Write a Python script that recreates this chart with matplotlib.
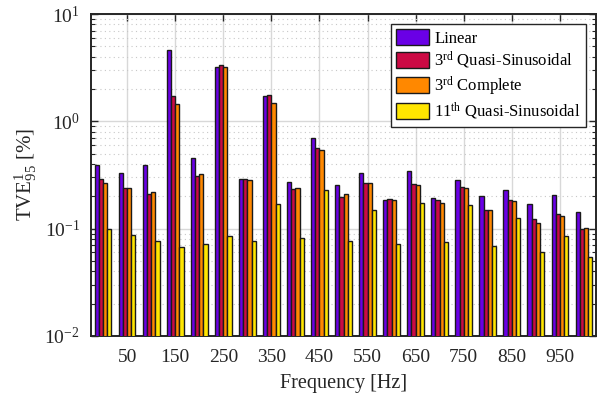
import numpy as np
import matplotlib
matplotlib.use("Agg")
import matplotlib.pyplot as plt
from matplotlib.ticker import LogLocator, NullFormatter

plt.rcParams['font.family'] = ['Liberation Serif', 'DejaVu Serif']
plt.rcParams['mathtext.fontset'] = 'custom'
plt.rcParams['mathtext.rm'] = 'Liberation Serif'
plt.rcParams['mathtext.it'] = 'Liberation Serif:italic'

# one group every 50 Hz, labels on every other group
groups = np.arange(1, 22)
tick_pos = [2, 4, 6, 8, 10, 12, 14, 16, 18, 20]
tick_labels = ['50', '150', '250', '350', '450', '550', '650', '750', '850', '950']

linear = [0.388, 0.327, 0.396, 4.61, 0.454, 3.22, 0.291, 1.72, 0.273, 0.704,
          0.254, 0.331, 0.184, 0.341, 0.192, 0.285, 0.200, 0.228, 0.170, 0.207, 0.143]
quasi3 = [0.291, 0.238, 0.211, 1.71, 0.308, 3.33, 0.290, 1.76, 0.235, 0.563,
          0.199, 0.265, 0.189, 0.263, 0.183, 0.245, 0.148, 0.184, 0.122, 0.137, 0.100]
complete3 = [0.269, 0.238, 0.220, 1.46, 0.321, 3.18, 0.283, 1.48, 0.238, 0.544,
             0.212, 0.265, 0.186, 0.256, 0.174, 0.238, 0.150, 0.180, 0.113, 0.132, 0.101]
quasi11 = [0.099, 0.088, 0.077, 0.068, 0.072, 0.086, 0.076, 0.171, 0.081, 0.228,
           0.076, 0.148, 0.072, 0.174, 0.0745, 0.165, 0.069, 0.125, 0.061, 0.085, 0.054]

series = [linear, quasi3, complete3, quasi11]
names = ['Linear', '3$^{\\rm rd}$ Quasi-Sinusoidal', '3$^{\\rm rd}$ Complete',
         '11$^{\\rm th}$ Quasi-Sinusoidal']
colors = ['#6A00E6', '#CC0A44', '#FF8800', '#FFE600']

fig = plt.figure(figsize=(6.08, 3.99), dpi=100)
ax = fig.add_axes([91/608, 1 - 336/399, 505/608, 322/399])

w = 0.175
for i, (vals, name, c) in enumerate(zip(series, names, colors)):
    ax.bar(groups + (i - 1.5) * w, vals, w, color=c, edgecolor='#1a1a1a',
           linewidth=1.0, label=name, zorder=3)

ax.set_yscale('log')
ax.set_ylim(1e-2, 1e1)
ax.set_xlim(0.5, 21.5)
ax.set_xticks(tick_pos)
ax.set_xticklabels(tick_labels)
ax.yaxis.set_minor_locator(LogLocator(base=10, subs=np.arange(2, 10), numticks=20))
ax.yaxis.set_minor_formatter(NullFormatter())

ax.grid(True, which='major', color='#d8d8d8', linewidth=1.0, zorder=0)
ax.grid(True, which='minor', axis='y', color='#c8c8c8', linestyle=(0, (1, 3)),
        linewidth=0.8, zorder=0)
ax.set_axisbelow(True)

ax.tick_params(which='both', direction='in', top=True, right=True,
               labelsize=14, colors='#262626')
ax.tick_params(which='major', length=5, width=1)
ax.tick_params(which='minor', length=3, width=0.8)
ax.tick_params(axis='x', which='major', pad=9)
ax.tick_params(axis='y', which='major', pad=8)
ax.tick_params(axis='x', which='minor', bottom=False, top=False)
for s in ax.spines.values():
    s.set_linewidth(1.4)
    s.set_color('#262626')

ax.set_xlabel('Frequency [Hz]', fontsize=14.5, color='#262626', labelpad=6)
ax.set_ylabel('TVE$^{1}_{95}$ [%]', fontsize=15, color='#262626', labelpad=4)

leg = ax.legend(loc='upper right', fontsize=12, frameon=True, fancybox=False,
                edgecolor='#262626', framealpha=1, borderpad=0.3,
                handlelength=2.0, handleheight=1.1, handletextpad=0.3,
                labelspacing=0.2, borderaxespad=0.6)
leg.get_frame().set_linewidth(1.0)

fig.savefig('out.png', dpi=100)
